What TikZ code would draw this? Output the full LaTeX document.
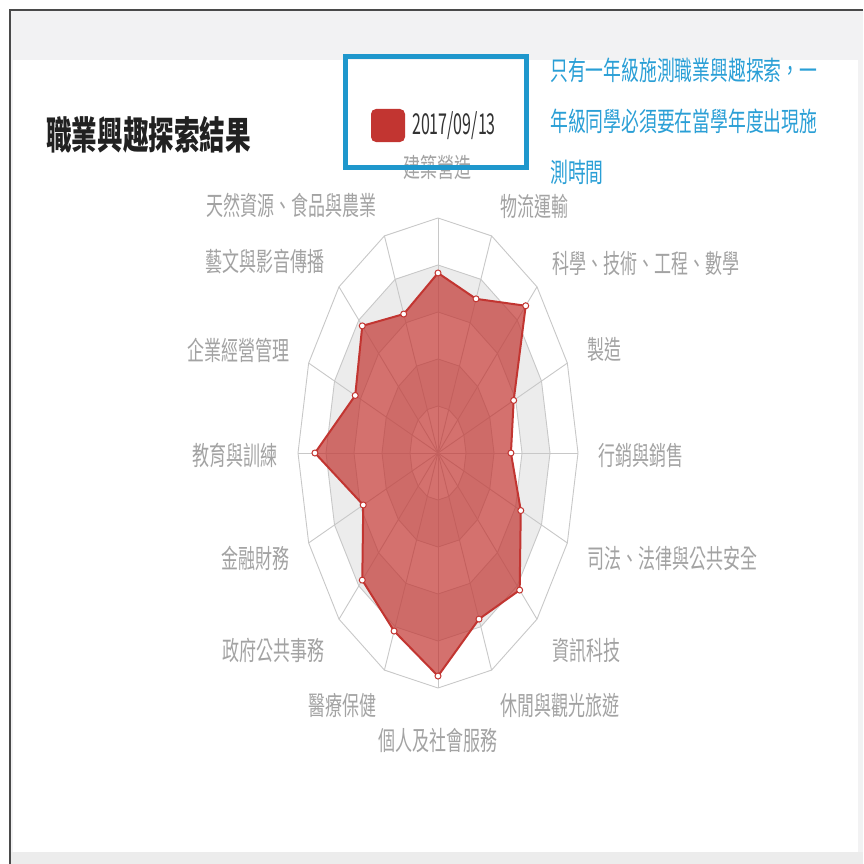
\documentclass[tikz,border=0pt]{standalone}
\usepackage{fontspec}
\setmainfont{Noto Sans CJK TC}
\usepackage{tikz}

\definecolor{framegray}{HTML}{4A4A4A}
\definecolor{headgray}{HTML}{F2F2F3}
\definecolor{bandgray}{HTML}{ECECEC}
\definecolor{gridgray}{HTML}{C8C8C8}
\definecolor{labelgray}{HTML}{A3A3A3}
\definecolor{chartred}{HTML}{C23531}
\definecolor{noteblue}{HTML}{2A9FD6}
\definecolor{boxblue}{HTML}{1F97CC}

\begin{document}
\begin{tikzpicture}[x=1pt,y=-1pt]
            \tikzset{axislabel/.style = {text=labelgray, font=\fontsize{17}{17}\selectfont, yscale=1.55, inner sep=0pt}}
            \tikzset{note/.style = {text=noteblue, font=\fontsize{17.8}{18}\selectfont, yscale=1.5, inner sep=0pt, anchor=west}}
            \tikzset{ringline/.style = {draw=gridgray, line width=0.9pt}}
            \tikzset{dot/.style = {circle, draw=chartred, fill=white, line width=1pt, inner sep=0pt, minimum size=6pt}}
            \useasboundingbox (0,0) rectangle (863,864);
            % page
            \fill[headgray] (10,10) rectangle (863,864);
            \fill[white] (13,60) rectangle (858,852);
            \fill[bandgray] (10,852) rectangle (863,864);
            \draw[framegray, line width=1.5pt] (863,10) -- (10,10) -- (10,864);
            % radar grid
            \begin{scope}[shift={(438,453)}, x=140pt, y=235pt]
            \fill[bandgray, even odd rule] (90:0.8) \foreach \i in {1,...,15} {-- (90-22.5*\i:0.8)} -- cycle
                (90:0.6) \foreach \i in {1,...,15} {-- (90-22.5*\i:0.6)} -- cycle;
            \fill[bandgray, even odd rule] (90:0.4) \foreach \i in {1,...,15} {-- (90-22.5*\i:0.4)} -- cycle
                (90:0.2) \foreach \i in {1,...,15} {-- (90-22.5*\i:0.2)} -- cycle;
            \foreach \r in {0.2,0.4,0.6,0.8,1}
                \draw[ringline] (90:\r) \foreach \i in {1,...,15} {-- (90-22.5*\i:\r)} -- cycle;
            \coordinate (o) at (0,0);
            \foreach \i in {0,...,15} {
                \coordinate (s\i) at ({90-22.5*\i}:1);
                \draw[ringline] (o) -- (s\i);
            }
            % scores
            \foreach \f [count=\i from 0] in {0.766,0.71,0.886,0.585,0.521,0.64,0.825,0.765,0.949,0.82,0.765,0.578,0.879,0.64,0.765,0.64}
                \coordinate (p\i) at ({90-22.5*\i}:\f);
            \fill[chartred, fill opacity=0.7] (p0) \foreach \i in {1,...,15} {-- (p\i)} -- cycle;
            \draw[chartred, line width=2pt, line join=round] (p0) \foreach \i in {1,...,15} {-- (p\i)} -- cycle;
            \foreach \i in {0,...,15}
                \node[dot] (d\i) at (p\i) {};
            \end{scope}
            % axis labels
            \node[axislabel] (build) at (437,167) {建築營造};
            \node[axislabel, anchor=west] (logistics) at (500,206) {物流運輸};
            \node[axislabel, anchor=west] (stem) at (552,263) {科學、技術、工程、數學};
            \node[axislabel, anchor=west] (manuf) at (587,350) {製造};
            \node[axislabel, anchor=west] (market) at (598,455) {行銷與銷售};
            \node[axislabel, anchor=west] (law) at (587,558) {司法、法律與公共安全};
            \node[axislabel, anchor=west] (it) at (552,650) {資訊科技};
            \node[axislabel, anchor=west] (leisure) at (500,705) {休閒與觀光旅遊};
            \node[axislabel] (social) at (438,741) {個人及社會服務};
            \node[axislabel, anchor=east] (health) at (377,705) {醫療保健};
            \node[axislabel, anchor=east] (gov) at (325,650) {政府公共事務};
            \node[axislabel, anchor=east] (finance) at (290,558) {金融財務};
            \node[axislabel, anchor=east] (edu) at (278,455) {教育與訓練};
            \node[axislabel, anchor=east] (business) at (290,350) {企業經營管理};
            \node[axislabel, anchor=east] (arts) at (325,262) {藝文與影音傳播};
            \node[axislabel, anchor=east] (agri) at (377,205) {天然資源、食品與農業};
            % title and legend
            \node[anchor=west, text=black!87, font=\fontsize{25.6}{26}\selectfont\bfseries, yscale=1.5, inner sep=0pt] (title) at (46,135) {職業興趣探索結果};
            \node[fill=chartred, rounded corners=5pt, minimum width=34pt, minimum height=33pt, inner sep=0pt] (swatch) at (388,125.5) {};
            \node[anchor=west, text=black!80, font=\fontsize{16}{16}\selectfont, yscale=1.8, inner sep=0pt] (date) at (412,126) {2017/09/13};
            \node[draw=boxblue, line width=5pt, minimum width=181pt, minimum height=111pt, inner sep=0pt] (legend) at (436,112) {};
            % note
            \node[note] (note1) at (550,70) {只有一年級施測職業興趣探索，一};
            \node[note] (note2) at (550,121) {年級同學必須要在當學年度出現施};
            \node[note] (note3) at (550,172) {測時間};
        \end{tikzpicture}
\end{document}
